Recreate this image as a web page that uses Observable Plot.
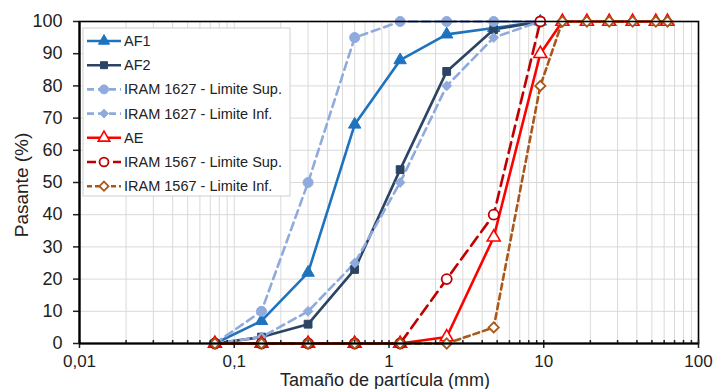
<!DOCTYPE html>
<html><head><meta charset="utf-8">
<script src="https://cdn.jsdelivr.net/npm/d3@7"></script>
<script src="https://cdn.jsdelivr.net/npm/@observablehq/plot@0.6"></script>
<style>
body{margin:0;background:#fff;font-family:"Liberation Sans",Arial,sans-serif;}
#chart{position:relative;width:716px;height:389px;overflow:hidden;}
</style>
</head><body><div id="chart"></div>
<script>
// Sieve sizes (mm)
const sieves = [0.075, 0.15, 0.3, 0.6, 1.18, 2.36, 4.75, 9.5, 13.2, 19, 26.5, 37.5, 53, 63];
const seriesNames = ["AF1", "AF2", "IRAM 1627 - Limite Sup.", "IRAM 1627 - Limite Inf.", "AE", "IRAM 1567 - Limite Sup.", "IRAM 1567 - Limite Inf."];
// % passing
const AF1 = [0, 7, 22, 68, 88, 96, 98, 100];
const AF2 = [0, 2, 6, 23, 54, 84.5, 97.5, 100];
const IRAM1627Sup = [0, 10, 50, 95, 100, 100, 100, 100];
const IRAM1627Inf = [0, 2, 10, 25, 50, 80, 95, 100];
const AE = [0, 0, 0, 0, 0, 2, 33, 90, 100, 100, 100, 100, 100, 100];
const IRAM1567Sup = [0, 0, 0, 0, 0, 20, 40, 100];
const IRAM1567Inf = [0, 0, 0, 0, 0, 0, 5, 80, 100, 100, 100, 100, 100, 100];
const xTickValues = [0.01, 0.1, 1, 10, 100];
const xTickLabels = ["0,01", "0,1", "1", "10", "100"];
const yTickValues = [0, 10, 20, 30, 40, 50, 60, 70, 80, 90, 100];

const allValues = [AF1, AF2, IRAM1627Sup, IRAM1627Inf, AE, IRAM1567Sup, IRAM1567Inf];
const styles = [
  {stroke: "#1E73BE", dash: null, legendDash: null, symbol: "triangle", fill: "#1E73BE", r: 4.6, sw: 1},
  {stroke: "#2B4463", dash: null, legendDash: null, symbol: "square", fill: "#2B4463", r: 4.4, sw: 1},
  {stroke: "#8FAADC", dash: "8,5", legendDash: "7,4", symbol: "circle", fill: "#8FAADC", r: 5, sw: 1},
  {stroke: "#8FAADC", dash: "8,5", legendDash: "7,4", symbol: "diamond2", fill: "#8FAADC", r: 4.4, sw: 1},
  {stroke: "#FF0000", dash: null, legendDash: null, symbol: "triangle", fill: "#fff", r: 4.8, sw: 1.6},
  {stroke: "#C00000", dash: "11,6", legendDash: "9,4", symbol: "circle", fill: "#fff", r: 5, sw: 1.8},
  {stroke: "#A8581A", dash: "6,4", legendDash: "5,3", symbol: "diamond2", fill: "#fff", r: 4.6, sw: 1.8}
];

const rows = seriesNames.map((name, k) =>
  allValues[k].map((v, i) => ({series: name, x: sieves[i], y: v})));

const logScale = d3.scaleLog().domain([0.01, 100]);
const minorGrid = logScale.ticks();

const marks = [
  Plot.ruleX(minorGrid, {stroke: "#d9d9d9", strokeWidth: 1}),
  Plot.ruleY(yTickValues, {stroke: "#d9d9d9", strokeWidth: 1}),
];
rows.forEach((data, k) => {
  const s = styles[k];
  marks.push(Plot.line(data, {x: "x", y: "y", stroke: s.stroke, strokeWidth: 2.6, strokeDasharray: s.dash, curve: "linear"}));
});
rows.forEach((data, k) => {
  const s = styles[k];
  marks.push(Plot.dot(data, {x: "x", y: "y", symbol: () => s.symbol, r: s.r, fill: s.fill, stroke: s.stroke, strokeWidth: s.sw}));
});
marks.push(
  Plot.frame({stroke: "#000", strokeWidth: 1.6}),
  Plot.axisX(minorGrid, {tickSize: -3, tickFormat: () => "", label: null, strokeWidth: 1.5}),
  Plot.axisX(xTickValues, {tickSize: 5, tickPadding: 6, tickFormat: d => xTickLabels[xTickValues.indexOf(d)], fontSize: 17, label: null, strokeWidth: 1.5}),
  Plot.axisY(yTickValues, {tickSize: 6, tickPadding: 11, fontSize: 18, label: null, strokeWidth: 1.5}),
  Plot.ruleY([0], {stroke: "#000", strokeWidth: 2.2}),
  Plot.ruleX([0.01], {stroke: "#000", strokeWidth: 2.2})
);

const chart = Plot.plot({
  width: 716, height: 389,
  marginLeft: 79, marginRight: 18, marginTop: 21, marginBottom: 46,
  x: {type: "log", domain: [0.01, 100]},
  y: {domain: [0, 100]},
  style: {fontFamily: "'Liberation Sans', Arial, sans-serif", color: "#222", background: "#fff", overflow: "visible"},
  marks
});
document.getElementById("chart").appendChild(chart);

// Axis titles and legend
const svg = d3.select(chart);
svg.append("text").attr("x", 385).attr("y", 386).attr("text-anchor", "middle")
  .attr("font-size", 18).attr("fill", "#222").text("Tamaño de partícula (mm)");
svg.append("text").attr("transform", "translate(28,185) rotate(-90)").attr("text-anchor", "middle")
  .attr("font-size", 19).attr("fill", "#222").text("Pasante (%)");

const lg = svg.append("g");
lg.append("rect").attr("x", 83).attr("y", 28).attr("width", 207).attr("height", 168)
  .attr("fill", "#fff").attr("stroke", "#d0d0d0").attr("stroke-width", 1);
const symMap = {triangle: d3.symbolTriangle, square: d3.symbolSquare, circle: d3.symbolCircle, diamond2: d3.symbolDiamond2};
seriesNames.forEach((name, k) => {
  const s = styles[k];
  const y = 41 + k * 24.2;
  lg.append("line").attr("x1", 87).attr("x2", 121).attr("y1", y).attr("y2", y)
    .attr("stroke", s.stroke).attr("stroke-width", 2.6).attr("stroke-dasharray", s.legendDash);
  lg.append("path").attr("transform", `translate(104,${y})`)
    .attr("d", d3.symbol(symMap[s.symbol], Math.PI * s.r * s.r * 0.8)())
    .attr("fill", s.fill).attr("stroke", s.stroke).attr("stroke-width", s.sw);
  lg.append("text").attr("x", 124).attr("y", y + 5).attr("text-anchor", "start")
    .attr("font-size", 14.5).attr("fill", "#222").text(name);
});
</script>
</body></html>
